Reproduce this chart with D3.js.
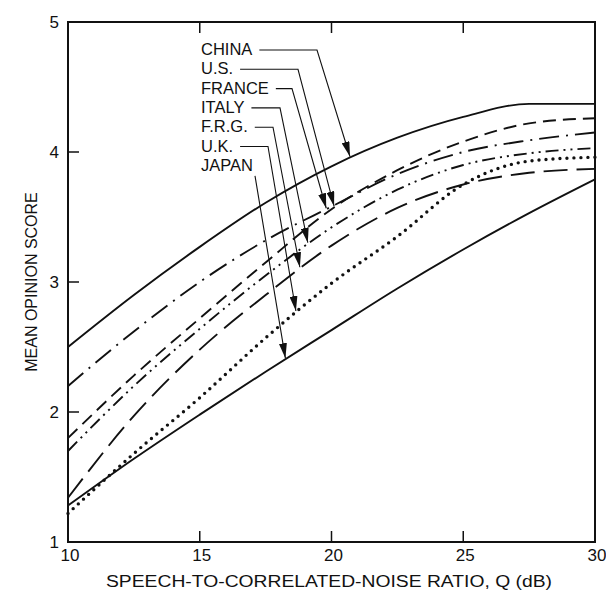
<!DOCTYPE html>
<html>
<head>
<meta charset="utf-8">
<script src="https://cdn.jsdelivr.net/npm/d3@7"></script>
<style>
  body { margin: 0; background: #fff; }
  text { font-family: "Liberation Sans", Arial, sans-serif; fill: #111; }
</style>
</head>
<body>
<div id="chart"></div>
<script>
// signal-to-noise values (dB) where each curve was read
const snr = [10, 12.5, 15, 17.5, 20, 22.5, 25, 27.5, 30];

// mean opinion score per country
const china  = [2.50, 2.90, 3.27, 3.61, 3.89, 4.11, 4.27, 4.37, 4.37];
const us     = [1.80, 2.28, 2.72, 3.15, 3.56, 3.86, 4.08, 4.22, 4.26];
const france = [2.20, 2.62, 3.00, 3.32, 3.58, 3.83, 4.00, 4.09, 4.15];
const italy  = [1.70, 2.20, 2.64, 3.05, 3.42, 3.71, 3.90, 3.99, 4.03];
const frg    = [1.34, 1.97, 2.48, 2.90, 3.28, 3.57, 3.75, 3.84, 3.87];
const uk     = [1.22, 1.68, 2.11, 2.57, 2.99, 3.35, 3.75, 3.93, 3.96];
const japan  = [1.28, 1.64, 1.98, 2.31, 2.63, 2.95, 3.25, 3.53, 3.79];

const countries = ["CHINA", "U.S.", "FRANCE", "ITALY", "F.R.G.", "U.K.", "JAPAN"];
// dB where each label's arrow hits its curve
const arrowAt = [20.7, 20.1, 19.8, 19.1, 18.8, 18.65, 18.25];

const xTicks = [10, 15, 20, 25, 30];
const yTicks = [1, 2, 3, 4, 5];

const series = [china, us, france, italy, frg, uk, japan];

// line styles, same order as countries
const styles = [
  { dash: null, w: 1.9 },
  { dash: "13 7", w: 1.9 },
  { dash: "20 7 2 7", w: 1.9 },
  { dash: "13 5 2 5 2 5", w: 1.9 },
  { dash: "24 9", w: 1.9 },
  { dash: "0 7", w: 3.4, cap: "round" },
  { dash: null, w: 1.9 }
];
// x of the bend in each leader line (JAPAN has none)
const leaderKnee = [317, 298, 292, 280, 273, 268, null];

const width = 606, height = 594;
const margin = { top: 22, right: 11, bottom: 52, left: 68 };

const svg = d3.select("#chart").append("svg")
  .attr("width", width)
  .attr("height", height);

const x = d3.scaleLinear().domain([10, 30]).range([margin.left, width - margin.right]);
const y = d3.scaleLinear().domain([1, 5]).range([height - margin.bottom, margin.top]);

const defs = svg.append("defs");
defs.append("marker")
  .attr("id", "arrow")
  .attr("markerUnits", "userSpaceOnUse")
  .attr("viewBox", "0 0 15 8")
  .attr("markerWidth", 15)
  .attr("markerHeight", 8)
  .attr("refX", 15)
  .attr("refY", 4)
  .attr("orient", "auto")
  .append("path")
  .attr("d", "M0,0 L15,4 L0,8 Z")
  .attr("fill", "#111");

// curves
const line = d3.line()
  .x(d => x(d[0]))
  .y(d => y(d[1]))
  .curve(d3.curveMonotoneX);

const paths = series.map((vals, i) => {
  const st = styles[i];
  return svg.append("path")
    .datum(snr.map((s, j) => [s, vals[j]]))
    .attr("d", line)
    .attr("fill", "none")
    .attr("stroke", "#111")
    .attr("stroke-width", st.w)
    .attr("stroke-dasharray", st.dash)
    .attr("stroke-linecap", st.cap || "butt")
    .node();
});

// find the point on a path at a given screen x
function pointAtX(node, px) {
  let lo = 0, hi = node.getTotalLength();
  for (let k = 0; k < 40; k++) {
    const mid = (lo + hi) / 2;
    if (node.getPointAtLength(mid).x < px) lo = mid; else hi = mid;
  }
  return node.getPointAtLength(lo);
}

// frame
svg.append("rect")
  .attr("x", x(10)).attr("y", y(5))
  .attr("width", x(30) - x(10)).attr("height", y(1) - y(5))
  .attr("fill", "none").attr("stroke", "#111").attr("stroke-width", 2);

// inward ticks
const inner = xTicks.slice(1, -1);
svg.selectAll(".xtb").data(inner).enter().append("line")
  .attr("x1", d => x(d)).attr("x2", d => x(d))
  .attr("y1", y(1)).attr("y2", y(1) - 11)
  .attr("stroke", "#111").attr("stroke-width", 1.5);
svg.selectAll(".xtt").data(inner).enter().append("line")
  .attr("x1", d => x(d)).attr("x2", d => x(d))
  .attr("y1", y(5)).attr("y2", y(5) + 11)
  .attr("stroke", "#111").attr("stroke-width", 1.5);
svg.selectAll(".ytl").data(yTicks.slice(1, -1)).enter().append("line")
  .attr("x1", x(10)).attr("x2", x(10) + 11)
  .attr("y1", d => y(d)).attr("y2", d => y(d))
  .attr("stroke", "#111").attr("stroke-width", 1.5);

// tick labels
svg.selectAll(".xl").data(xTicks).enter().append("text")
  .attr("x", d => x(d) + 2)
  .attr("y", y(1) + 19)
  .attr("text-anchor", "middle")
  .attr("font-size", 17)
  .text(d => d);
svg.selectAll(".yl").data(yTicks).enter().append("text")
  .attr("x", x(10) - 9)
  .attr("y", d => y(d) + 6)
  .attr("text-anchor", "end")
  .attr("font-size", 17)
  .text(d => d);

// axis titles
svg.append("text")
  .attr("x", 329).attr("y", 587)
  .attr("text-anchor", "middle")
  .attr("font-size", 16)
  .attr("textLength", 446)
  .attr("lengthAdjust", "spacingAndGlyphs")
  .text("SPEECH-TO-CORRELATED-NOISE RATIO, Q (dB)");
svg.append("text")
  .attr("transform", `translate(37,${(y(1) + y(5)) / 2}) rotate(-90)`)
  .attr("text-anchor", "middle")
  .attr("font-size", 16)
  .text("MEAN OPINION SCORE");

// labels with leader arrows
countries.forEach((name, i) => {
  const ty = 55 + i * 19.3;
  const t = svg.append("text")
    .attr("x", 201).attr("y", ty)
    .attr("font-size", 16.5)
    .text(name);
  const tip = pointAtX(paths[i], x(arrowAt[i]));
  let pts;
  if (leaderKnee[i] !== null) {
    const endX = 201 + t.node().getComputedTextLength() + 7;
    pts = [[endX, ty - 5], [leaderKnee[i], ty - 5], [tip.x, tip.y - 1]];
  } else {
    pts = [[255, ty + 5], [tip.x, tip.y - 1]];
  }
  svg.append("path")
    .attr("d", d3.line()(pts))
    .attr("fill", "none")
    .attr("stroke", "#111")
    .attr("stroke-width", 1.1)
    .attr("marker-end", "url(#arrow)");
});
</script>
</body>
</html>
